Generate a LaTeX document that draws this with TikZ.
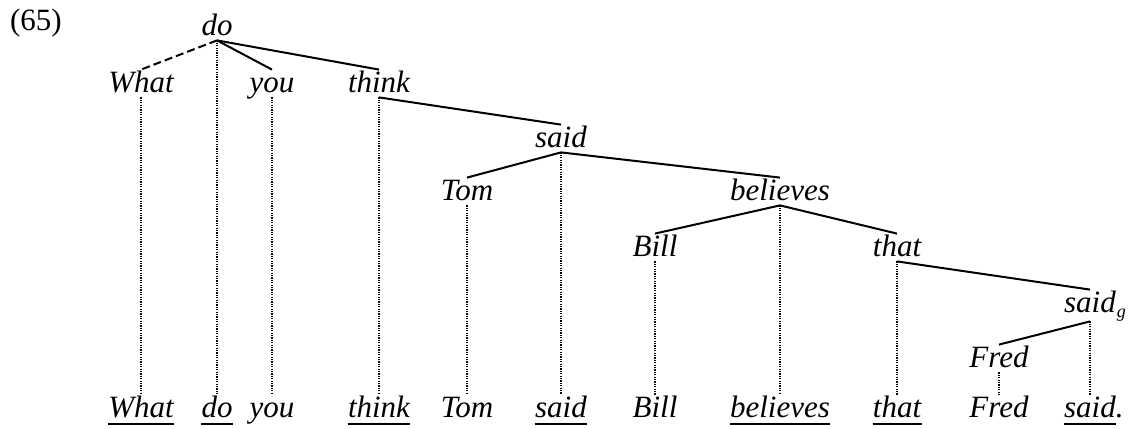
\documentclass[tikz,border=0pt]{standalone}
\usepackage{fontspec}
\setmainfont{Liberation Serif}[ItalicFont={Liberation Serif Italic}]
\begin{document}
\begin{tikzpicture}[x=0.5pt,y=-0.5pt,
  w/.style={font=\fontsize{15.5}{18}\selectfont\itshape, inner sep=0pt, anchor=base, text height=11pt, text depth=2.5pt},
  br/.style={line width=1pt},
  dsh/.style={line width=1pt, dash pattern=on 4pt off 2pt},
  dotl/.style={line width=0.8pt, dash pattern=on 0.6pt off 0.6pt},
  ul/.style={line width=1.25pt}]
\useasboundingbox (0,0) rectangle (1134,428);
% example number
\node[font=\fontsize{15.5}{18}\selectfont, inner sep=0pt, anchor=base] (ex) at (36,30) {(65)};
% tree nodes
\node[w] (do) at (217,35) {do};
\node[w] (tWhat) at (141,92) {What};
\node[w] (tyou) at (272,92) {you};
\node[w] (tthink) at (379,92) {think};
\node[w] (tsaid) at (561,147) {said};
\node[w] (tTom) at (467,200) {Tom};
\node[w] (tbelieves) at (780,200) {believes};
\node[w] (tBill) at (655,256) {Bill};
\node[w] (tthat) at (897,256) {that};
\node[w, text depth=4.5pt] (tsaidg) at (1090,312) {said\rlap{\kern0.5pt\raisebox{-2.5pt}{\fontsize{9}{9}\selectfont g}}};
\node[w] (tFred) at (999,367) {Fred};
% bottom row
\node[w] (bWhat) at (141,417) {What};
\node[w] (bdo) at (217,417) {do};
\node[w] (byou) at (272,417) {you};
\node[w] (bthink) at (379,417) {think};
\node[w] (bTom) at (467,417) {Tom};
\node[w] (bsaid) at (561,417) {said};
\node[w] (bBill) at (655,417) {Bill};
\node[w] (bbelieves) at (780,417) {believes};
\node[w] (bthat) at (897,417) {that};
\node[w] (bFred) at (999,417) {Fred};
\node[w] (bsaidb) at (1090,417) {said\rlap{.}};
% tree branches
\draw[dsh] (do.south) -- (tWhat.north);
\draw[br] (do.south) -- (tyou.north);
\draw[br] (do.south) -- (tthink.north);
\draw[br] (tthink.south) -- (tsaid.north);
\draw[br] (tsaid.south) -- (tTom.north);
\draw[br] (tsaid.south) -- (tbelieves.north);
\draw[br] (tbelieves.south) -- (tBill.north);
\draw[br] (tbelieves.south) -- (tthat.north);
\draw[br] (tthat.south) -- (tsaidg.north);
\draw[br] (tsaidg.south) -- (tFred.north);
% projection lines
\draw[dotl] (tWhat.south) -- (bWhat.north);
\draw[dotl] (do.south) -- (bdo.north);
\draw[dotl] (tyou.south) -- (byou.north);
\draw[dotl] (tthink.south) -- (bthink.north);
\draw[dotl] (tTom.south) -- (bTom.north);
\draw[dotl] (tsaid.south) -- (bsaid.north);
\draw[dotl] (tBill.south) -- (bBill.north);
\draw[dotl] (tbelieves.south) -- (bbelieves.north);
\draw[dotl] (tthat.south) -- (bthat.north);
\draw[dotl] (tFred.south) -- (bFred.north);
\draw[dotl] (tsaidg.south) -- (bsaidb.north);
% underlines
\foreach \n in {bWhat,bdo,bthink,bsaid,bbelieves,bthat,bsaidb}
  \draw[ul] ([yshift=-3.5pt]\n.base west) -- ([yshift=-3.5pt]\n.base east);
\end{tikzpicture}
\end{document}
